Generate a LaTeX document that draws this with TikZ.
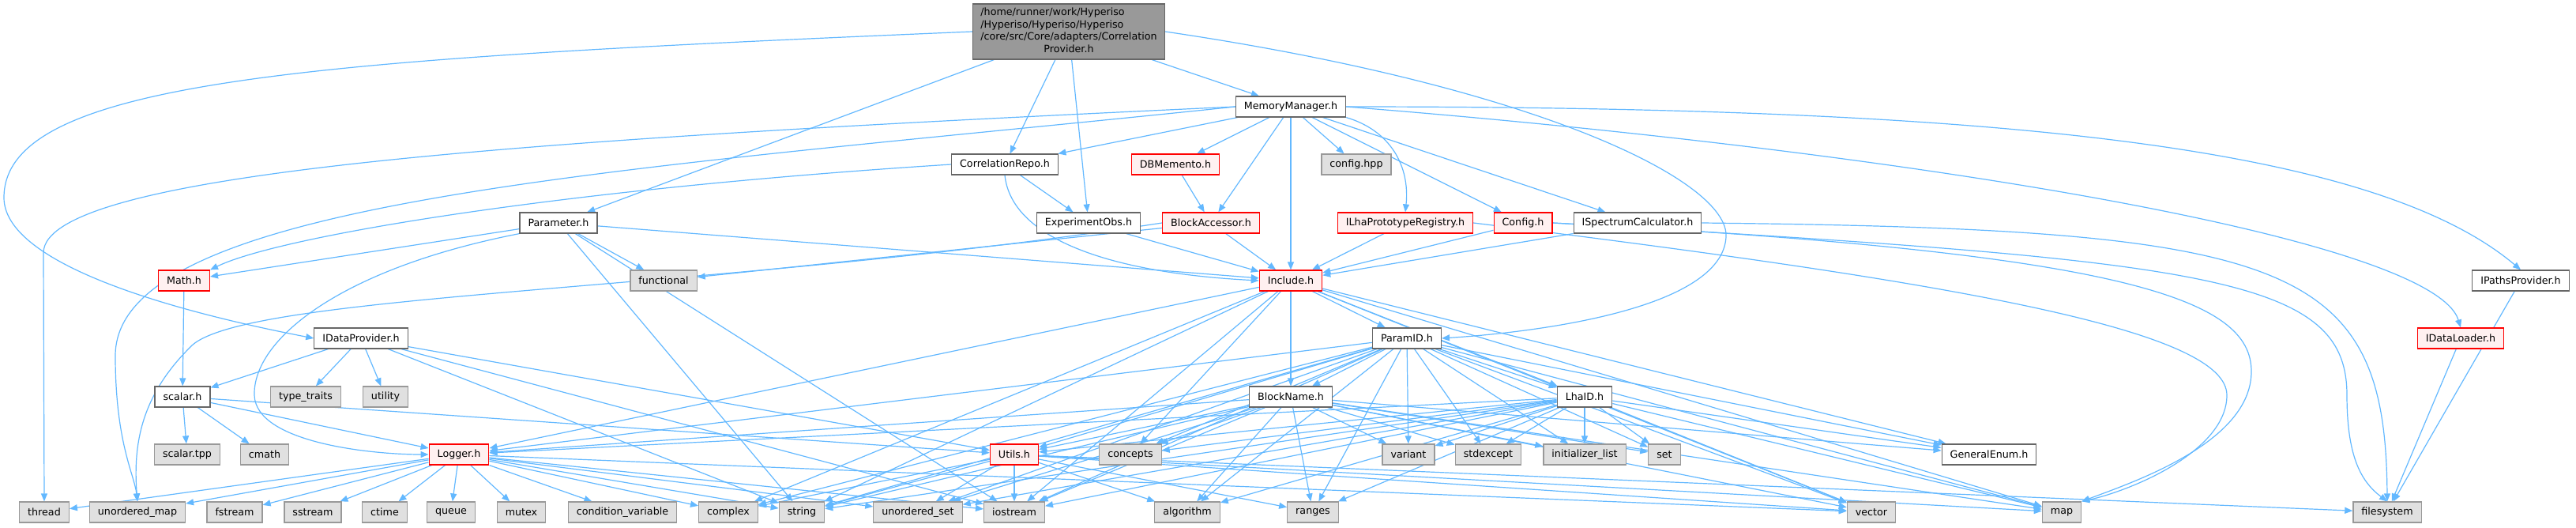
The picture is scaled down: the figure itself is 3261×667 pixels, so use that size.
\documentclass[tikz,border=0pt]{standalone}
\usepackage{fontspec}
\setmainfont{DejaVu Sans}
\usetikzlibrary{arrows.meta,backgrounds}
\definecolor{edgeblue}{HTML}{63B8FF}
\definecolor{rootfill}{HTML}{999999}
\definecolor{docline}{HTML}{666666}
\definecolor{redfill}{HTML}{FFF0F0}
\definecolor{extfill}{HTML}{E0E0E0}
\definecolor{extline}{HTML}{999999}
\newcommand{\dotfont}{\fontsize{12.7}{15.5}\selectfont}

\begin{document}
\begin{tikzpicture}[x=1pt, y=-1pt,
  hdr/.style={draw=docline, fill=white, line width=1.2pt, inner xsep=10.5pt, inner ysep=0pt, minimum height=26pt, font=\dotfont},
  redhdr/.style={hdr, draw=red, fill=redfill},
  syshdr/.style={hdr, draw=extline, fill=extfill},
  mainhdr/.style={hdr, fill=rootfill, minimum height=70pt, inner xsep=10pt},
  inc/.style={draw=edgeblue, line width=1.2pt, -{Triangle[length=10pt, width=8pt]}}]
\def\yr{40}
\def\ya{135}
\def\yb{208}
\def\yc{282}
\def\yd{355}
\def\ye{428}
\def\yf{502}
\def\yg{575}
\def\yh{648}

\useasboundingbox (0,0) rectangle (3261,667);

% headers, top to bottom
\node[mainhdr] (root) at (1353,\yr) {\begin{tabular}{@{}l@{}}/home/runner/work/Hyperiso\\/Hyperiso/Hyperiso/Hyperiso\\/core/src/Core/adapters/Correlation\\\multicolumn{1}{@{}c@{}}{Provider.h}\end{tabular}};

\node[hdr] (mem) at (1634,\ya) {MemoryManager.h};

\node[hdr] (crepo) at (1272,\yb) {CorrelationRepo.h};
\node[redhdr] (dbm) at (1488,\yb) {DBMemento.h};
\node[syshdr] (cfghpp) at (1717,\yb) {config.hpp};

\node[hdr] (param) at (707,\yc) {Parameter.h};
\node[hdr] (expobs) at (1378,\yc) {ExperimentObs.h};
\node[redhdr] (bacc) at (1533,\yc) {BlockAccessor.h};
\node[redhdr] (ilha) at (1779,\yc) {ILhaPrototypeRegistry.h};
\node[redhdr] (config) at (1928,\yc) {Config.h};
\node[hdr] (ispec) at (2073,\yc) {ISpectrumCalculator.h};

\node[redhdr] (math) at (233,\yd) {Math.h};
\node[syshdr] (functional) at (840,\yd) {functional};
\node[redhdr] (incl) at (1634,\yd) {Include.h};
\node[hdr] (ipaths) at (3191,\yd) {IPathsProvider.h};

\node[hdr] (idprov) at (457,\ye) {IDataProvider.h};
\node[hdr] (paramid) at (1781,\ye) {ParamID.h};
\node[redhdr] (idload) at (3115,\ye) {IDataLoader.h};

\node[hdr] (scalar) at (231,\yf) {scalar.h};
\node[syshdr] (typetraits) at (387,\yf) {type\_traits};
\node[syshdr] (utility) at (488,\yf) {utility};
\node[hdr] (bname) at (1634,\yf) {BlockName.h};
\node[hdr] (lhaid) at (2006,\yf) {LhaID.h};

\node[syshdr] (scalartpp) at (237,\yg) {scalar.tpp};
\node[syshdr] (cmath) at (335,\yg) {cmath};
\node[redhdr] (logger) at (581,\yg) {Logger.h};
\node[redhdr] (utils) at (1284,\yg) {Utils.h};
\node[syshdr] (concepts) at (1431,\yg) {concepts};
\node[syshdr] (variant) at (1783,\yg) {variant};
\node[syshdr] (stdexcept) at (1884,\yg) {stdexcept};
\node[syshdr] (initlist) at (2006,\yg) {initializer\_list};
\node[syshdr] (set) at (2107,\yg) {set};
\node[hdr] (genenum) at (2518,\yg) {GeneralEnum.h};

\node[syshdr] (thread) at (56,\yh) {thread};
\node[syshdr] (umap) at (174,\yh) {unordered\_map};
\node[syshdr] (fstream) at (297,\yh) {fstream};
\node[syshdr] (sstream) at (396,\yh) {sstream};
\node[syshdr] (ctime) at (487,\yh) {ctime};
\node[syshdr] (queue) at (571,\yh) {queue};
\node[syshdr] (mutex) at (660,\yh) {mutex};
\node[syshdr] (condvar) at (788,\yh) {condition\_variable};
\node[syshdr] (complex) at (922,\yh) {complex};
\node[syshdr] (string) at (1015,\yh) {string};
\node[syshdr] (uset) at (1162,\yh) {unordered\_set};
\node[syshdr] (iostream) at (1284,\yh) {iostream};
\node[syshdr] (algorithm) at (1503,\yh) {algorithm};
\node[syshdr] (ranges) at (1662,\yh) {ranges};
\node[syshdr] (vector) at (2369,\yh) {vector};
\node[syshdr] (map) at (2610,\yh) {map};
\node[syshdr] (filesystem) at (3022,\yh) {filesystem};

\begin{scope}[on background layer]
% CorrelationProvider.h
\draw[inc] (root.west) .. controls (400,75) and (5,100) .. (5,250) .. controls (5,330) and (200,390) .. (idprov.west);
\draw[inc] (root) -- (param);
\draw[inc] (root) -- (crepo);
\draw[inc] (root) -- (expobs);
\draw[inc] (root) -- (mem);
\draw[inc] (root.east) .. controls (1950,110) and (2190,230) .. (2185,300) .. controls (2180,390) and (1950,420) .. (paramid.east);

% MemoryManager.h
\draw[inc] (mem) -- (crepo);
\draw[inc] (mem) -- (dbm);
\draw[inc] (mem) -- (cfghpp);
\draw[inc] (mem) -- (bacc);
\draw[inc] (mem) -- (incl);
\draw[inc] (mem.south east) .. controls (1760,165) and (1785,210) .. (ilha.north);
\draw[inc] (mem) -- (config);
\draw[inc] (mem) -- (ispec);
\draw[inc] (mem.east) .. controls (2500,135) and (3000,180) .. (ipaths.north);
\draw[inc] (mem.east) .. controls (2400,190) and (3080,300) .. (idload.north);
\draw[inc] (mem.west) .. controls (700,175) and (55,215) .. (55,320) -- (thread.north);
\draw[inc] (mem.west) .. controls (800,215) and (146,250) .. (146,450) .. controls (146,560) and (170,600) .. (umap.north);

% second row
\draw[inc] (crepo.west) .. controls (700,240) and (350,300) .. (math.north east);
\draw[inc] (crepo) -- (expobs);
\draw[inc] (crepo.south) .. controls (1280,300) and (1400,345) .. (incl.west);
\draw[inc] (dbm) -- (bacc);

% third row
\draw[inc] (param) -- (math);
\draw[inc] (param) -- (functional);
\draw[inc] (param) -- (incl);
\draw[inc] (param.south west) .. controls (430,340) and (320,430) .. (322,500) .. controls (324,560) and (470,575) .. (logger.west);
\draw[inc] (param) -- (string);
\draw[inc] (param) -- (iostream);
\draw[inc] (expobs) -- (incl);
\draw[inc] (bacc) -- (functional);
\draw[inc] (bacc.west) .. controls (900,370) and (300,370) .. (240,440) .. controls (180,500) and (168,560) .. (umap.north);
\draw[inc] (bacc) -- (incl);
\draw[inc] (ilha) -- (incl);
\draw[inc] (ilha.east) .. controls (2500,360) and (2819,420) .. (2819,500) .. controls (2819,570) and (2700,620) .. (map.north east);
\draw[inc] (config) -- (incl);
\draw[inc] (config.east) .. controls (2700,320) and (2850,380) .. (2850,470) .. controls (2850,560) and (2700,610) .. (map.north east);
\draw[inc] (config.east) .. controls (2800,330) and (2971,350) .. (2971,500) .. controls (2971,580) and (2990,610) .. (filesystem.north);
\draw[inc] (ispec) -- (incl);
\draw[inc] (ispec.east) .. controls (2900,290) and (3020,330) .. (filesystem.north);

% fourth row
\draw[inc] (math) -- (scalar);
\draw[inc] (incl) -- (paramid);
\draw[inc] (incl) -- (bname);
\draw[inc] (incl) -- (lhaid);
\draw[inc] (incl) -- (logger);
\draw[inc] (incl) -- (complex);
\draw[inc] (incl) -- (string);
\draw[inc] (incl) -- (concepts);
\draw[inc] (incl) -- (iostream);
\draw[inc] (incl) -- (genenum);
\draw[inc] (incl) -- (map);
\draw[inc] (incl) -- (vector);
\draw[inc] (ipaths) -- (filesystem);

% fifth row
\draw[inc] (idload) -- (filesystem);
\draw[inc] (idprov) -- (scalar);
\draw[inc] (idprov) -- (typetraits);
\draw[inc] (idprov) -- (utility);
\draw[inc] (idprov) -- (utils);
\draw[inc] (idprov) -- (string);
\draw[inc] (idprov) -- (iostream);
\draw[inc] (paramid) -- (bname);
\draw[inc] (paramid) -- (lhaid);
\draw[inc] (paramid) -- (logger);
\draw[inc] (paramid) -- (utils);
\draw[inc] (paramid) -- (concepts);
\draw[inc] (paramid) -- (variant);
\draw[inc] (paramid) -- (stdexcept);
\draw[inc] (paramid) -- (initlist);
\draw[inc] (paramid) -- (set);
\draw[inc] (paramid) -- (genenum);
\draw[inc] (paramid) -- (string);
\draw[inc] (paramid) -- (iostream);
\draw[inc] (paramid) -- (uset);
\draw[inc] (paramid) -- (algorithm);
\draw[inc] (paramid) -- (ranges);
\draw[inc] (paramid) -- (vector);
\draw[inc] (paramid) -- (map);
\draw[inc] (paramid) -- (complex);

% sixth row
\draw[inc] (scalar) -- (scalartpp);
\draw[inc] (scalar) -- (cmath);
\draw[inc] (scalar) -- (logger);
\draw[inc] (scalar) -- (utils);
\draw[inc] (bname) -- (logger);
\draw[inc] (bname) -- (utils);
\draw[inc] (bname) -- (concepts);
\draw[inc] (bname) -- (variant);
\draw[inc] (bname) -- (stdexcept);
\draw[inc] (bname) -- (initlist);
\draw[inc] (bname) -- (set);
\draw[inc] (bname) -- (genenum);
\draw[inc] (bname) -- (string);
\draw[inc] (bname) -- (iostream);
\draw[inc] (bname) -- (uset);
\draw[inc] (bname) -- (algorithm);
\draw[inc] (bname) -- (ranges);
\draw[inc] (bname) -- (vector);
\draw[inc] (bname) -- (map);
\draw[inc] (lhaid) -- (logger);
\draw[inc] (lhaid) -- (utils);
\draw[inc] (lhaid) -- (concepts);
\draw[inc] (lhaid) -- (variant);
\draw[inc] (lhaid) -- (stdexcept);
\draw[inc] (lhaid) -- (initlist);
\draw[inc] (lhaid) -- (set);
\draw[inc] (lhaid) -- (genenum);
\draw[inc] (lhaid) -- (string);
\draw[inc] (lhaid) -- (iostream);
\draw[inc] (lhaid) -- (uset);
\draw[inc] (lhaid) -- (algorithm);
\draw[inc] (lhaid) -- (ranges);
\draw[inc] (lhaid) -- (vector);
\draw[inc] (lhaid) -- (map);

% seventh row
\draw[inc] (logger) -- (thread);
\draw[inc] (logger) -- (umap);
\draw[inc] (logger) -- (fstream);
\draw[inc] (logger) -- (sstream);
\draw[inc] (logger) -- (ctime);
\draw[inc] (logger) -- (queue);
\draw[inc] (logger) -- (mutex);
\draw[inc] (logger) -- (condvar);
\draw[inc] (logger) -- (complex);
\draw[inc] (logger) -- (string);
\draw[inc] (logger) -- (uset);
\draw[inc] (logger) -- (iostream);
\draw[inc] (logger) -- (vector);
\draw[inc] (utils) -- (complex);
\draw[inc] (utils) -- (string);
\draw[inc] (utils) -- (uset);
\draw[inc] (utils) -- (iostream);
\draw[inc] (utils) -- (algorithm);
\draw[inc] (utils) -- (ranges);
\draw[inc] (utils) -- (vector);
\draw[inc] (utils) -- (map);
\draw[inc] (utils) -- (filesystem);
\end{scope}

\end{tikzpicture}
\end{document}
